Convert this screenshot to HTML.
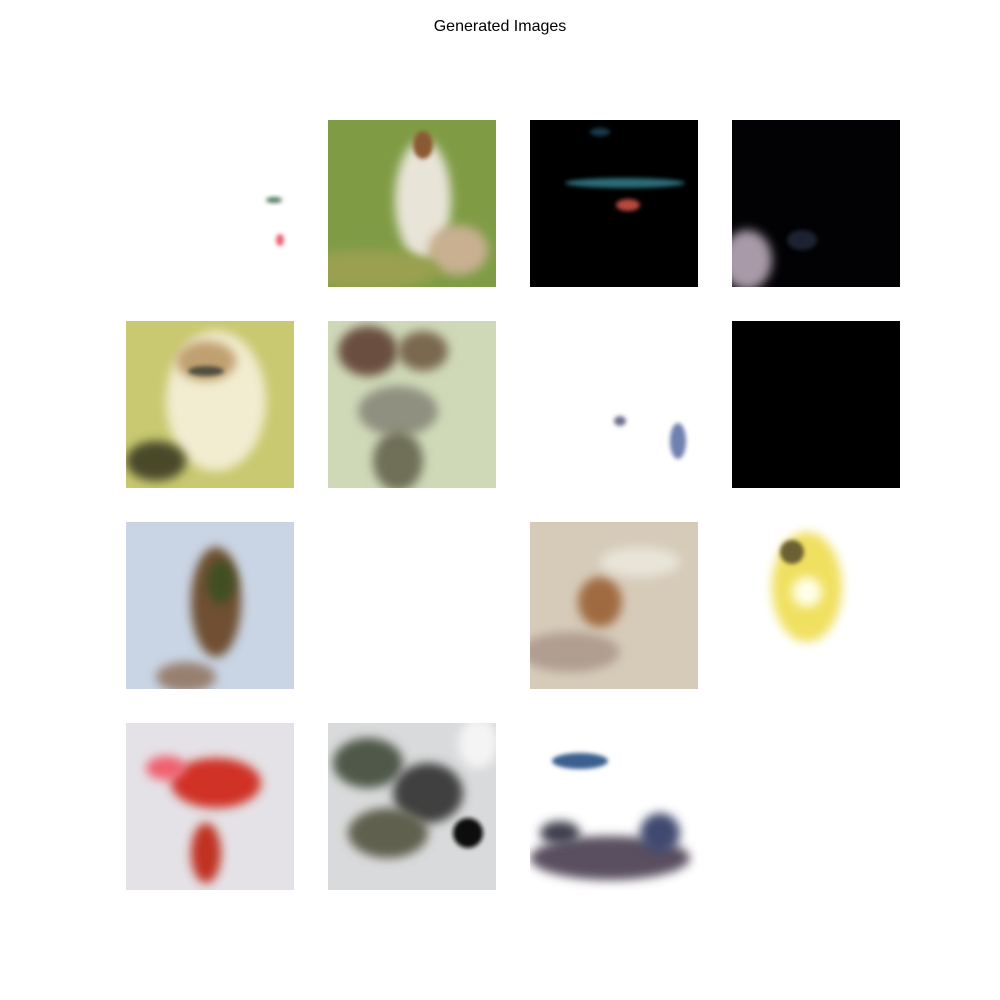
<!DOCTYPE html>
<html><head><meta charset="utf-8"><style>
html,body{margin:0;padding:0;background:#fff;}
#wrap{position:relative;width:1000px;height:1000px;}
#title{position:absolute;top:18px;left:0;width:1000px;text-align:center;font-family:"Liberation Sans",sans-serif;font-size:16px;color:#000;}
</style></head><body>
<div id="wrap">
<div id="title">Generated Images</div>
<svg id="svg" width="1000" height="1000" style="position:absolute;left:0;top:0">
<defs>
<filter id="b" x="-50%" y="-50%" width="200%" height="200%"><feGaussianBlur stdDeviation="5"/></filter>
<filter id="s" x="-50%" y="-50%" width="200%" height="200%"><feGaussianBlur stdDeviation="2"/></filter>
</defs>
</svg>
</div>
<script>
const colX = [126, 328, 530, 732];
const rowY = [120, 321, 522, 723];
const tileSize = 168;
const tileBg = ["#ffffff","#7f9c45","#000000","#020205",
                "#c9c971","#cfd9b8","#ffffff","#000000",
                "#c9d5e4","#ffffff","#d6cbb9","#ffffff",
                "#e4e2e6","#d9dadb","#ffffff","none"];
// blobs: [tileIndex, relX, relY, rx, ry, color, filter]
const blobs = [
 [0,148,80,8,3,"#4f7a60","s"],[0,154,120,4,6,"#e86070","s"],
 [1,95,80,28,60,"#e8e4d8","b"],[1,95,25,10,14,"#8a5a30","s"],[1,130,130,30,25,"#c8b090","b"],[1,40,150,70,20,"#9aa050","b"],
 [2,95,63,60,5,"#2c6a78","s"],[2,98,85,12,6,"#b84a3c","s"],[2,70,12,10,4,"#1a3a50","s"],
 [3,15,140,25,30,"#a89aa8","b"],[3,70,120,15,10,"#1a2030","s"],
 [4,90,80,50,70,"#f2ecd0","b"],[4,80,40,30,20,"#c0a070","b"],[4,30,140,30,20,"#4a4a2a","b"],[4,80,50,18,5,"#505040","s"],
 [5,40,30,30,25,"#6a5040","b"],[5,95,30,25,20,"#7a6850","b"],[5,70,90,40,25,"#909080","b"],[5,70,140,25,30,"#707058","b"],
 [6,90,100,6,5,"#707090","s"],[6,148,120,8,18,"#7080b0","s"],
 [8,90,80,25,55,"#705030","b"],[8,95,60,14,22,"#405020","b"],[8,60,155,30,15,"#988070","b"],
 [10,70,80,22,25,"#a06a40","b"],[10,40,130,50,20,"#b09e90","b"],[10,110,40,40,15,"#e8e4d8","b"],
 [11,75,65,35,55,"#f0e060","b"],[11,60,30,12,12,"#6a6030","s"],[11,75,70,15,15,"#ffffe8","b"],
 [12,90,60,45,25,"#d03028","b"],[12,40,45,20,12,"#f06070","b"],[12,80,130,15,30,"#c03020","b"],
 [13,40,40,35,25,"#505848","b"],[13,100,70,35,30,"#404040","b"],[13,150,20,20,25,"#f4f4f4","b"],[13,60,110,40,25,"#606050","b"],[13,140,110,15,15,"#101010","s"],
 [14,50,38,28,8,"#3a6090","s"],[14,80,135,80,22,"#5a5060","b"],[14,130,110,20,20,"#404870","b"],[14,30,110,20,12,"#404050","b"]
];
const svg = document.getElementById('svg');
const NS = "http://www.w3.org/2000/svg";
const groups = [];
for (let i = 0; i < 16; i++) {
  const r = Math.floor(i / 4), c = i % 4;
  const g = document.createElementNS(NS, 'g');
  
  
  const cp = document.createElementNS(NS, 'clipPath');
  cp.setAttribute('id', 'cp' + i);
  const cr = document.createElementNS(NS, 'rect');
  cr.setAttribute('x', colX[c]); cr.setAttribute('y', rowY[r]);
  cr.setAttribute('width', tileSize); cr.setAttribute('height', tileSize - 1);
  cp.appendChild(cr); svg.appendChild(cp);
  g.setAttribute('clip-path', 'url(#cp' + i + ')');
  if (tileBg[i] !== 'none') {
    const bg = document.createElementNS(NS, 'rect');
    
    
    bg.setAttribute('x', colX[c]); bg.setAttribute('y', rowY[r]);
    bg.setAttribute('width', tileSize); bg.setAttribute('height', tileSize - 1);
    bg.setAttribute('fill', tileBg[i]);
    g.appendChild(bg);
  }
  svg.appendChild(g); groups.push(g);
}
blobs.forEach(bl => {
  const i = bl[0], r = Math.floor(i / 4), c = i % 4;
  const e = document.createElementNS(NS, 'ellipse');
  
  
  e.setAttribute('cx', colX[c] + bl[1]); e.setAttribute('cy', rowY[r] + bl[2]);
  e.setAttribute('rx', bl[3]); e.setAttribute('ry', bl[4]);
  e.setAttribute('fill', bl[5]); e.setAttribute('filter', 'url(#' + bl[6] + ')');
  groups[i].appendChild(e);
});
</script>
</body></html>
